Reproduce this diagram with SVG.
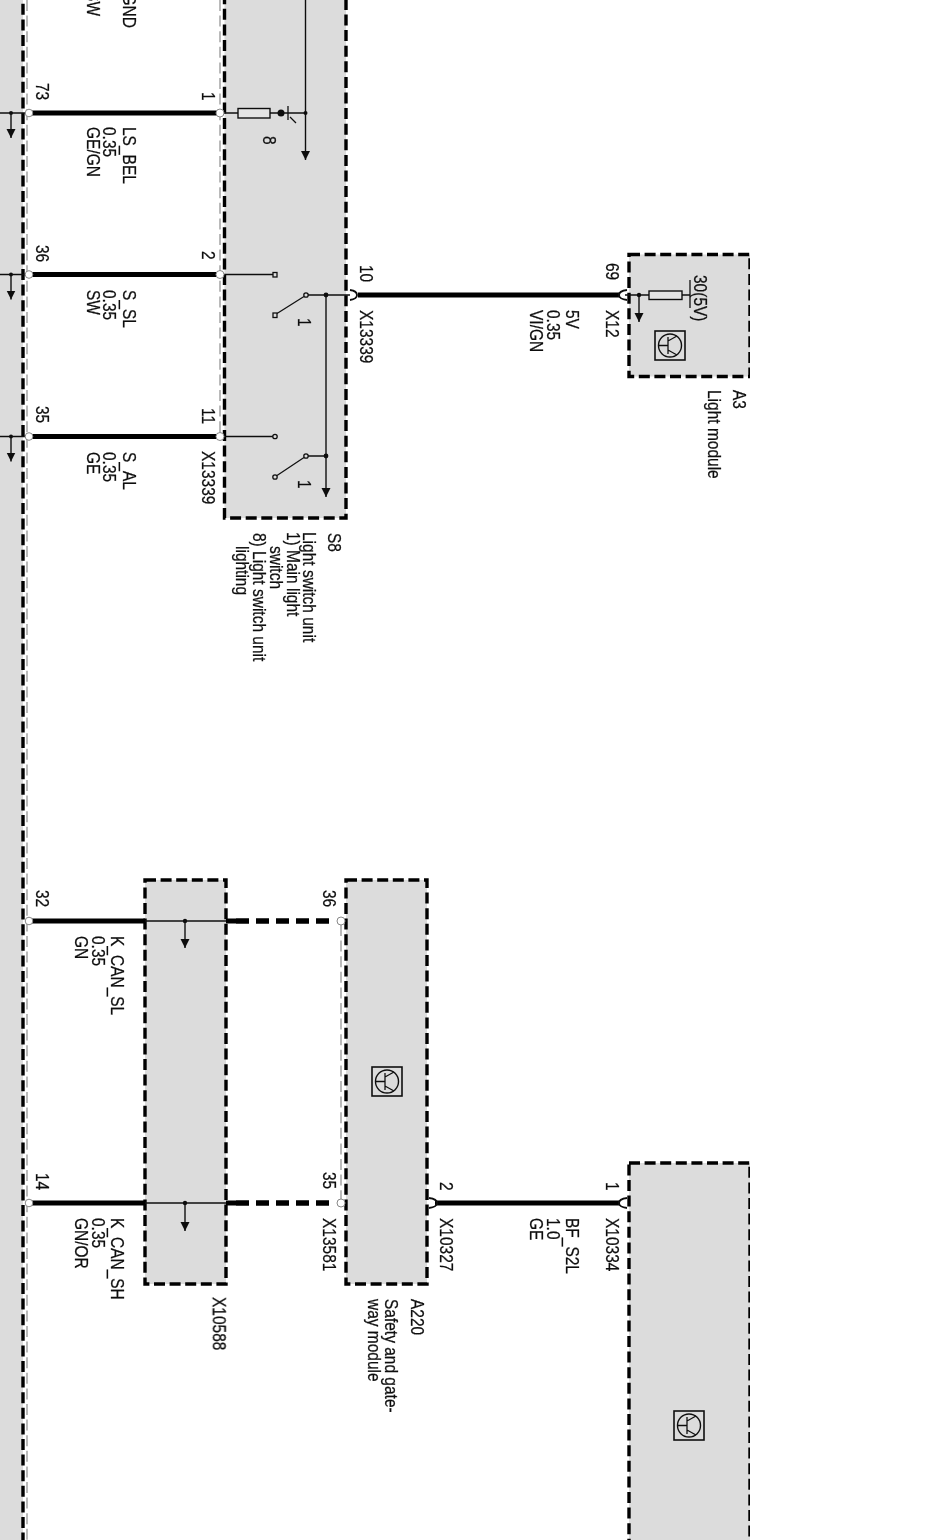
<svg xmlns="http://www.w3.org/2000/svg" width="941" height="1540" viewBox="0 0 941 1540">
<style>
text{font-family:"Liberation Sans",Arial,sans-serif;font-size:15.5px;fill:#111;stroke:#111;stroke-width:.22}
.box{fill:#dcdcdc;stroke:#000;stroke-width:3.4;stroke-dasharray:11 4.6}
.ghost{fill:none;stroke:#aaa;stroke-width:1.6;stroke-dasharray:11 4.6}
.w{fill:none;stroke:#000;stroke-width:5}
.wd{fill:none;stroke:#000;stroke-width:5.4;stroke-dasharray:13 7}
.t{fill:none;stroke:#111;stroke-width:1.3}
.a{fill:none;stroke:#111;stroke-width:1.4;marker-end:url(#ah)}
.dot{fill:#111}
.term{fill:#ddd;stroke:#111;stroke-width:1.3}
.res{fill:#e4e4e4;stroke:#111;stroke-width:1.4}
.pin{fill:#fff;stroke:#888;stroke-width:1}
.fork{fill:none;stroke:#111;stroke-width:1.8}
</style>
<defs>
<filter id="soft" x="0" y="0" width="100%" height="100%"><feGaussianBlur stdDeviation="0.4"/></filter>
<marker id="ah" markerUnits="userSpaceOnUse" markerWidth="10" markerHeight="10" refX="9" refY="4.5" orient="auto" viewBox="0 0 10 10"><path d="M0 0L9 4.5L0 9Z" fill="#111"/></marker>
<g id="ic">
<rect x="0" y="0" width="30" height="29" fill="none" stroke="#111" stroke-width="1.6"/>
<circle cx="15" cy="14.5" r="11.5" fill="none" stroke="#111" stroke-width="1.4"/>
<path d="M3.5 14.5H13M13 6V23M13 10L22 5M13 19L22 24" fill="none" stroke="#111" stroke-width="1.3"/>
</g>
</defs>
<rect width="941" height="1540" fill="#fff"/>
<g filter="url(#soft)">

<g id="left-module">
<rect x="-10" y="-10" width="33" height="1560" class="box"/>
<path d="M27 0V1540" class="ghost"/>
<path d="M0 113H30M0 274.5H30M0 436.5H30" class="t"/>
<path d="M11 113V138" class="a"/><path d="M11 274.5V299.5" class="a"/><path d="M11 436.5V461.5" class="a"/>
<circle cx="11" cy="113" r="2" class="dot"/><circle cx="11" cy="274.5" r="2" class="dot"/><circle cx="11" cy="436.5" r="2" class="dot"/>
</g>

<g id="S8">
<rect x="224.5" y="-20" width="121.5" height="538" class="box"/>
<path d="M220 0V440" class="ghost"/>
<rect x="238" y="108.5" width="32" height="9.5" class="res"/>
<path d="M224 113H238M270 113H305.5M288 106V120M290 117L296 123" class="t"/>
<circle cx="281" cy="113" r="3.5" class="dot"/>
<circle cx="305.5" cy="113" r="2" class="dot"/>
<path d="M305.5 0V160" class="a"/>
<text transform="translate(263,136) rotate(90) scale(1,1.2)">8</text>
<path d="M224 274.5H273M224 436.5H273M277 313.5L304 296.5M277 475.5L304 457.5M308 295H350M308 456H326" class="t"/>
<path d="M326 295V497" class="a"/>
<circle cx="326" cy="295" r="2.4" class="dot"/><circle cx="326" cy="456" r="2.4" class="dot"/>
<rect x="273" y="272.5" width="4" height="4.5" class="term"/><circle cx="275" cy="436.5" r="2.2" class="term"/>
<rect x="273" y="313" width="4" height="4.5" class="term"/><circle cx="275" cy="477" r="2.2" class="term"/>
<circle cx="306" cy="295" r="2.2" class="term"/><circle cx="306" cy="456" r="2.2" class="term"/>
<text transform="translate(298,318) rotate(90) scale(1,1.2)">1</text>
<text transform="translate(298,480) rotate(90) scale(1,1.2)">1</text>
<text transform="translate(328,533) rotate(90) scale(1,1.2)">S8</text>
<text transform="translate(303,532) rotate(90) scale(1,1.2)">Light switch unit</text>
<text transform="translate(287,532) rotate(90) scale(1,1.2)">1) Main light</text>
<text transform="translate(270,546) rotate(90) scale(1,1.2)">switch</text>
<text transform="translate(253,533) rotate(90) scale(1,1.2)">8) Light switch unit</text>
<text transform="translate(236,546) rotate(90) scale(1,1.2)">lighting</text>
</g>

<g id="A3">
<rect x="629" y="254.5" width="121" height="122" class="box"/>
<rect x="649" y="291" width="33" height="8.5" class="res"/>
<path d="M625 295H649M682 295H690M690 280V308" class="t"/>
<circle cx="639" cy="295" r="2.2" class="dot"/>
<path d="M639 295V322" class="a"/>
<use href="#ic" x="655" y="331"/>
<text transform="translate(694,275) rotate(90) scale(1,1.2)">30(5V)</text>
<text transform="translate(733,390) rotate(90) scale(1,1.2)">A3</text>
<text transform="translate(708,390) rotate(90) scale(1,1.2)">Light module</text>
</g>

<g id="X10588">
<rect x="145" y="880" width="81" height="404" class="box"/>
<path d="M145 921H226M145 1203H226" class="t"/>
<path d="M185 921V948" class="a"/><path d="M185 1203V1231" class="a"/>
<circle cx="185" cy="921" r="2.2" class="dot"/><circle cx="185" cy="1203" r="2.2" class="dot"/>
<text transform="translate(213,1297) rotate(90) scale(1,1.2)">X10588</text>
</g>

<g id="A220">
<rect x="346" y="880" width="81" height="404" class="box"/>
<path d="M341 925V1200" class="ghost"/>
<use href="#ic" x="372" y="1067"/>
<text transform="translate(411,1299) rotate(90) scale(1,1.2)">A220</text>
<text transform="translate(385,1299) rotate(90) scale(1,1.2)">Safety and gate-</text>
<text transform="translate(368,1299) rotate(90) scale(1,1.2)">way module</text>
</g>

<g id="lower-module">
<rect x="629" y="1163" width="121" height="400" class="box"/>
<use href="#ic" x="674" y="1411"/>
</g>

<g id="connectors">
<path d="M30 113H217M30 274.5H217M30 436.5H217M358 295H620M30 921H145M30 1203H145M226 921H236M226 1203H236M435 1203H620" class="w"/>
<path d="M236 921H336M236 1203H336" class="wd"/>
<circle cx="29" cy="113" r="3.8" class="pin"/><circle cx="29" cy="274.5" r="3.8" class="pin"/><circle cx="29" cy="436.5" r="3.8" class="pin"/>
<circle cx="29" cy="921" r="3.8" class="pin"/><circle cx="29" cy="1203" r="3.8" class="pin"/>
<circle cx="220" cy="113" r="4" class="pin"/><circle cx="220" cy="274.5" r="4" class="pin"/><circle cx="220" cy="436.5" r="4" class="pin"/>
<circle cx="341" cy="921" r="4" class="pin"/><circle cx="341" cy="1203" r="4" class="pin"/>
<path d="M350 290Q357 291 357 295Q357 299 350 300M627 290Q619 291 619 295Q619 299 627 300M429 1198Q437 1199 437 1203Q437 1207 429 1208M627 1198Q619 1199 619 1203Q619 1207 627 1208" class="fork"/>
</g>

<g id="labels">
<text transform="translate(123,28) rotate(90) scale(1,1.2)" text-anchor="end">GND</text>
<text transform="translate(87,16) rotate(90) scale(1,1.2)" text-anchor="end">SW</text>
<text transform="translate(36,83) rotate(90) scale(1,1.2)">73</text>
<text transform="translate(202,92) rotate(90) scale(1,1.2)">1</text>
<text transform="translate(123,127) rotate(90) scale(1,1.2)">LS_BEL</text>
<text transform="translate(103,127) rotate(90) scale(1,1.2)">0.35</text>
<text transform="translate(87,127) rotate(90) scale(1,1.2)">GE/GN</text>
<text transform="translate(36,245) rotate(90) scale(1,1.2)">36</text>
<text transform="translate(202,251) rotate(90) scale(1,1.2)">2</text>
<text transform="translate(123,290) rotate(90) scale(1,1.2)">S_SL</text>
<text transform="translate(103,290) rotate(90) scale(1,1.2)">0.35</text>
<text transform="translate(87,290) rotate(90) scale(1,1.2)">SW</text>
<text transform="translate(36,406) rotate(90) scale(1,1.2)">35</text>
<text transform="translate(202,408) rotate(90) scale(1,1.2)">11</text>
<text transform="translate(202,451) rotate(90) scale(1,1.2)">X13339</text>
<text transform="translate(123,452) rotate(90) scale(1,1.2)">S_AL</text>
<text transform="translate(103,452) rotate(90) scale(1,1.2)">0.35</text>
<text transform="translate(87,452) rotate(90) scale(1,1.2)">GE</text>
<text transform="translate(360,265) rotate(90) scale(1,1.2)">10</text>
<text transform="translate(360,310) rotate(90) scale(1,1.2)">X13339</text>
<text transform="translate(606,263) rotate(90) scale(1,1.2)">69</text>
<text transform="translate(606,310) rotate(90) scale(1,1.2)">X12</text>
<text transform="translate(566,310) rotate(90) scale(1,1.2)">5V</text>
<text transform="translate(547,310) rotate(90) scale(1,1.2)">0.35</text>
<text transform="translate(530,310) rotate(90) scale(1,1.2)">VI/GN</text>
<text transform="translate(36,890) rotate(90) scale(1,1.2)">32</text>
<text transform="translate(111,936) rotate(90) scale(1,1.2)">K_CAN_SL</text>
<text transform="translate(92,936) rotate(90) scale(1,1.2)">0.35</text>
<text transform="translate(75,936) rotate(90) scale(1,1.2)">GN</text>
<text transform="translate(36,1173) rotate(90) scale(1,1.2)">14</text>
<text transform="translate(111,1218) rotate(90) scale(1,1.2)">K_CAN_SH</text>
<text transform="translate(92,1218) rotate(90) scale(1,1.2)">0.35</text>
<text transform="translate(75,1218) rotate(90) scale(1,1.2)">GN/OR</text>
<text transform="translate(323,890) rotate(90) scale(1,1.2)">36</text>
<text transform="translate(323,1172) rotate(90) scale(1,1.2)">35</text>
<text transform="translate(323,1218) rotate(90) scale(1,1.2)">X13581</text>
<text transform="translate(440,1182) rotate(90) scale(1,1.2)">2</text>
<text transform="translate(440,1218) rotate(90) scale(1,1.2)">X10327</text>
<text transform="translate(606,1182) rotate(90) scale(1,1.2)">1</text>
<text transform="translate(606,1218) rotate(90) scale(1,1.2)">X10334</text>
<text transform="translate(566,1218) rotate(90) scale(1,1.2)">BF_S2L</text>
<text transform="translate(547,1218) rotate(90) scale(1,1.2)">1.0</text>
<text transform="translate(530,1218) rotate(90) scale(1,1.2)">GE</text>
</g>
</g>
</svg>
